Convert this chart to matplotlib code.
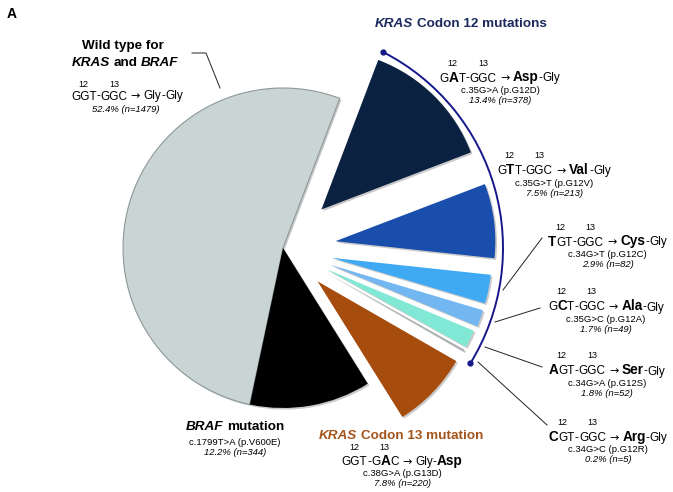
import numpy as np
import matplotlib
matplotlib.use('Agg')
import matplotlib.pyplot as plt
from matplotlib.patches import Shadow, Arc
from matplotlib.font_manager import findfont, FontProperties
from matplotlib.ft2font import FT2Font

W, H = 673, 492
FONT = ['Liberation Sans', 'DejaVu Sans']

# slices, counterclockwise starting at the top edge of the wild type slice
slice_names = ['Wild type', 'V600E', 'G13D', 'G12R', 'G12S', 'G12A', 'G12C', 'G12V', 'G12D']
pct = [52.4, 12.2, 7.8, 0.2, 1.8, 1.7, 2.9, 7.5, 13.4]
n_cases = [1479, 344, 220, 5, 52, 49, 82, 213, 378]
colors = ['#c9d4d4', '#000000', '#a64c0c', '#a7b1b1', '#80e8d4',
          '#72b6f2', '#40a9f4', '#1a4eac', '#0b2142']
explode = [0, 0, 0.3, 0.3, 0.3, 0.31, 0.31, 0.33, 0.34]

# codon text for the KRAS slices (same order as above, from index 2)
wt_seq, wt_aa = 'GGT-GGC', 'Gly-Gly'
kras_seq = ['GGT-GAC', 'CGT-GGC', 'AGT-GGC', 'GCT-GGC', 'TGT-GGC', 'GTT-GGC', 'GAT-GGC']
kras_aa = ['Gly-Asp', 'Arg-Gly', 'Ser-Gly', 'Ala-Gly', 'Cys-Gly', 'Val-Gly', 'Asp-Gly']
kras_cdna = ['c.38G>A', 'c.34G>C', 'c.34G>A', 'c.35G>C', 'c.34G>T', 'c.35G>T', 'c.35G>A']
braf_cdna = 'c.1799T>A'

# label anchor (centre x, baseline of codon line) in image pixels
kras_pos = [(402, 465), (608, 441), (607, 374.5), (606, 310.5), (607.5, 245.5), (554, 174), (500, 81.5)]

fig = plt.figure(figsize=(W / 100, H / 100), dpi=100)
ax = fig.add_axes([0, 0, 1, 1])
cx, cy, rad = 283, H - 248, 160

# matplotlib's explode is an absolute offset, so scale by the radius
wedges, _ = ax.pie(pct, explode=[e * rad for e in explode], colors=colors, startangle=69.2,
                   center=(cx, cy), radius=rad, wedgeprops=dict(linewidth=0))
wedges[0].set_edgecolor('#8e9898')
wedges[0].set_linewidth(0.8)
for w in wedges:
    s = Shadow(w, 1.2, -1.2, facecolor='#8a8a8a', edgecolor='none', alpha=0.45)
    s.set_zorder(w.get_zorder() - 0.1)
    ax.add_patch(s)

ax.set_xlim(0, W)
ax.set_ylim(0, H)
ax.set_aspect('equal')
ax.axis('off')

# bracket for the codon 12 group
navy = '#16188a'
ax.add_patch(Arc((cx, cy), 440, 440, theta1=-31.6, theta2=62.9, color=navy, lw=1.4))
for a in (-31.6, 62.9):
    ax.plot(cx + 220 * np.cos(np.radians(a)), cy + 220 * np.sin(np.radians(a)),
            'o', color=navy, ms=3.5)

# leader lines (image px)
leaders = [[(192, 53), (206, 53), (220, 88)],
           [(503, 290), (542, 238)],
           [(495, 322), (540, 308)],
           [(485, 347), (542, 367)],
           [(478, 362), (547, 425)]]
for pts in leaders:
    xs, ys = zip(*pts)
    ax.plot(xs, [H - y for y in ys], color='#222222', lw=0.7)

_fonts = {}


def advance(s, size, weight='normal', style='normal', families=FONT):
    # typographic advance width in pixels (dpi 100)
    if isinstance(families, str):
        families = [families]
    total = 0.0
    for ch in s:
        for fam in families:
            key = (fam, weight, style)
            if key not in _fonts:
                _fonts[key] = FT2Font(findfont(FontProperties(family=fam, weight=weight, style=style)))
            f = _fonts[key]
            if f.get_char_index(ord(ch)):
                f.set_size(size, 100)
                total += f.load_char(ord(ch)).linearHoriAdvance / 65536
                break
    return total


def rich(x, y, parts, color='black'):
    # parts: (text, kwargs, tag) or a number = blank space in px
    ws = []
    for p in parts:
        if isinstance(p, (int, float)):
            ws.append(p)
        else:
            kw = p[1]
            ws.append(advance(p[0], kw['fontsize'], kw.get('fontweight', 'normal'),
                              kw.get('fontstyle', 'normal'), kw.get('family', FONT)))
    cur = x - sum(ws) / 2
    spans = []
    for p, w in zip(parts, ws):
        if not isinstance(p, (int, float)):
            kw = dict(family=FONT)
            kw.update(p[1])
            ax.text(cur, H - y, p[0], va='baseline', ha='left', color=color, **kw)
        spans.append((cur, cur + w))
        cur += w
    return spans


REG = dict(fontsize=8.5)
BIG = dict(fontsize=9.8, fontweight='bold')
ARROW = dict(fontsize=8, family='DejaVu Sans')
B = dict(fontsize=9.7, fontweight='bold')
BI = dict(fontsize=9.7, fontweight='bold', fontstyle='italic')


def codon_line(x, y, seq, aa, num_dy=16):
    groups = []
    for i, ch in enumerate(seq):
        tag = 0 if i < 3 else (1 if i > 3 else None)
        bold = ch != wt_seq[i]
        if groups and groups[-1][1] == bold and groups[-1][2] == tag:
            groups[-1][0] += ch
        else:
            groups.append([ch, bold, tag])
    parts = [(s, BIG if b else REG, tag) for s, b, tag in groups]
    parts += [3.6, ('→', ARROW, None), 3.6]
    for k, res in enumerate(aa.split('-')):
        if k:
            parts.append(('-', REG, None))
        parts.append((res, BIG if res != 'Gly' else REG, None))
    spans = rich(x, y, parts)
    for tag, lab in ((0, '12'), (1, '13')):
        sel = [sp for sp, p in zip(spans, parts)
               if not isinstance(p, (int, float)) and p[2] == tag]
        ax.text((sel[0][0] + sel[-1][1]) / 2, H - (y - num_dy), lab, fontsize=6.5,
                family=FONT, ha='center', va='baseline')


def small(x, y, s, italic=False):
    ax.text(x, H - y, s, fontsize=6.8, family=FONT, ha='center', va='baseline',
            fontstyle='italic' if italic else 'normal')


# panel letter
ax.text(7, H - 18, 'A', fontsize=10, fontweight='bold', family=FONT, va='baseline')

# wild type
rich(123, 49, [('Wild type for', B, None)])
rich(125, 66, [('KRAS', BI, None), 3.7, ('and', B, None), 3.7, ('BRAF', BI, None)])
codon_line(127, 99.5, wt_seq, wt_aa, num_dy=12.5)
small(126, 112, f'{pct[0]}% (n={n_cases[0]})', italic=True)

# BRAF
rich(235, 430, [('BRAF', BI, None), 3.7, ('mutation', B, None)])
small(235, 445, f'{braf_cdna} (p.{slice_names[1]})')
small(235, 455, f'{pct[1]}% (n={n_cases[1]})', italic=True)

# KRAS group titles
rich(461, 27, [('KRAS', BI, None), 3.7, ('Codon 12 mutations', B, None)], color='#1b2a5c')
rich(401, 439, [('KRAS', BI, None), 3.7, ('Codon 13 mutation', B, None)], color='#a3541a')

for k, (x, y) in enumerate(kras_pos):
    i = k + 2
    codon_line(x, y, kras_seq[k], kras_aa[k], num_dy=15 if i == 2 else 16)
    small(x, y + 11.5, f'{kras_cdna[k]} (p.{slice_names[i]})')
    small(x, y + 21.5, f'{pct[i]}% (n={n_cases[i]})', italic=True)

fig.savefig('out.png', dpi=100)
